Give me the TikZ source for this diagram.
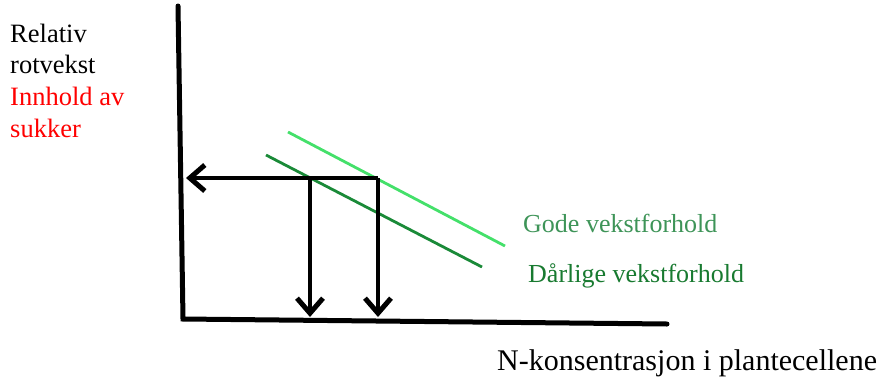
\documentclass[tikz,border=0pt]{standalone}
\usepackage{fontspec}
\setmainfont{Liberation Serif}
\usetikzlibrary{arrows.meta}
\definecolor{lightg}{HTML}{44E06A}
\definecolor{darkg}{HTML}{1A8A38}
\definecolor{godetext}{HTML}{3E9458}
\definecolor{darligtext}{HTML}{187A30}
\tikzset{
  axis/.style={line width=5pt, line cap=round},
  guide/.style={line width=4.5pt, -{Straight Barb[length=15pt,width=26pt,line width=5pt]}},
  curve/.style={line width=2.8pt},
  lbl/.style={anchor=base west, inner sep=0pt, font=\fontsize{26.5}{31}\selectfont},
}
\begin{document}
\begin{tikzpicture}[x=1pt,y=-1pt]
\useasboundingbox (0,0) rectangle (891,381);
% axes
\coordinate (top) at (178,6);
\coordinate (origin) at (183,319);
\coordinate (xend) at (667,324);
\draw[axis] (top) -- (origin) -- (xend);
% green lines
\coordinate (g1) at (288,132);
\coordinate (g2) at (505,246);
\coordinate (d1) at (266,155);
\coordinate (d2) at (482,267);
\draw[curve, lightg] (g1) -- (g2);
\draw[curve, darkg] (d1) -- (d2);
% guide arrows
\coordinate (c1) at (310,178);
\coordinate (c2) at (378,178);
\coordinate (yt) at (186,178);
\coordinate (b1) at (310,317);
\coordinate (b2) at (378,317);
\draw[guide] (c2) -- (yt);
\draw[guide] (c1) -- (b1);
\draw[guide] (c2) -- (b2);
% labels
\node[lbl] (l1) at (10,42) {Relativ};
\node[lbl] (l2) at (10,73) {rotvekst};
\node[lbl, text=red] (l3) at (10,105) {Innhold av};
\node[lbl, text=red] (l4) at (10,137) {sukker};
\node[lbl, text=godetext, font=\fontsize{26}{31}\selectfont] (gode) at (523,232) {Gode vekstforhold};
\node[lbl, text=darligtext, font=\fontsize{26}{31}\selectfont] (darlig) at (528,282) {Dårlige vekstforhold};
\node[lbl, font=\fontsize{30}{31}\selectfont] (xl) at (497,370) {N-konsentrasjon i plantecellene};
\end{tikzpicture}
\end{document}
